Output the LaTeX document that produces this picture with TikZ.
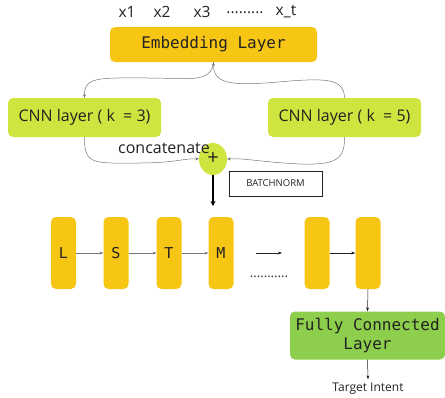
\documentclass[tikz,border=0pt]{standalone}
\usepackage{fontspec}
\setmainfont{Open Sans}
\setmonofont{DejaVu Sans Mono}
\usetikzlibrary{arrows.meta,shapes.geometric}
\definecolor{amber}{HTML}{F7C614}
\definecolor{lime}{HTML}{CFE43E}
\definecolor{leaf}{HTML}{8DCF4C}
\definecolor{ink}{HTML}{222222}
\definecolor{wire}{HTML}{777777}
\begin{document}
\begin{tikzpicture}[x=1pt,y=-1pt,
  box/.style={rounded corners=5pt, inner sep=0pt, text=ink, anchor=center},
  ambox/.style={box, fill=amber, font=\ttfamily\fontsize{15}{18}\selectfont},
  cnnbox/.style={box, fill=lime, minimum width=153pt, minimum height=39pt, font=\fontsize{16}{19}\selectfont},
  cell/.style={ambox, minimum width=25pt, minimum height=72pt},
  lbl/.style={inner sep=0pt, text=ink, anchor=center},
  thin/.style={draw=wire, line width=0.5pt, -{Stealth[length=3.5pt,width=3pt]}},
  dark/.style={draw=ink, line width=0.6pt, -{Stealth[length=4pt,width=3pt]}}]
\useasboundingbox (0,0) rectangle (445,397);

% top input labels
\begin{scope}[every node/.style={lbl, font=\fontsize{15.5}{18}\selectfont}]
\node (x1) at (127,12) {x1};
\node (x2) at (162,12) {x2};
\node (x3) at (202,12) {x3};
\node (xd) at (245,13) {.........};
\node (xt) at (286,12) {x\_t};
\end{scope}

\node[ambox, minimum width=207pt, minimum height=35pt, font=\ttfamily\fontsize{16}{19}\selectfont] (emb) at (213.5,44.5) {Embedding Layer};
\node[cnnbox] (c3) at (84.5,117.5) {CNN layer ( k \ = 3)};
\node[cnnbox] (c5) at (344.5,117.5) {CNN layer ( k \ = 5)};

\node[ellipse, fill=lime, minimum width=28pt, minimum height=32pt, inner sep=0pt, text=ink, font=\fontsize{20}{22}\selectfont] (plus) at (213,159) {+};
\node[lbl, font=\fontsize{16}{19}\selectfont] (cat) at (164,148) {concatenate};
\node[draw=ink, line width=0.8pt, minimum width=93pt, minimum height=25pt, inner sep=0pt, text=ink, font=\fontsize{9.5}{11}\selectfont] (bn) at (275.5,183.5) {BATCHNORM};

% curved connectors
\draw[thin] (emb.south) .. controls (212,84) and (185,78) .. (150,78)
  .. controls (100,78) and (84,76) .. (c3.north);
\draw[thin] (c5.north) .. controls (344,80) and (330,78) .. (290,81)
  .. controls (235,86) and (213,86) .. (emb.south);
\draw[thin] (c3.south) .. controls (84,166) and (95,163) .. (140,163)
  .. controls (175,163) and (185,158) .. (plus.west);
\draw[thin] (c5.south) .. controls (345,160) and (335,165) .. (300,164)
  .. controls (260,162) and (245,158) .. (plus.east);

\coordinate (bnend) at (213,206);
\draw[draw=black, line width=1.5pt, -{Stealth[length=5pt,width=5pt]}] (plus.south) -- (bnend);

% LSTM cells
\node[cell] (l1) at (63.5,253) {L};
\node[cell] (l2) at (116,253) {S};
\node[cell] (l3) at (169,253) {T};
\node[cell] (l4) at (221,253) {M};
\node[cell] (l5) at (317,253) {};
\node[cell] (l6) at (368,253) {};
\draw[thin] (l1) -- (l2);
\draw[thin] (l2) -- (l3);
\draw[thin] (l3) -- (l4);
\coordinate (fa) at (256,253);
\coordinate (fb) at (282,253);
\draw[dark, line width=0.5pt] (fa) -- (fb);
\draw[dark, line width=0.5pt] (l5) -- (l6);
\node[lbl, font=\fontsize{13}{15}\selectfont] (dots) at (269,277) {...........};

\node[box, fill=leaf, minimum width=155pt, minimum height=48pt, align=center, font=\ttfamily\fontsize{16}{19}\selectfont] (fc) at (367.5,335.5) {Fully Connected\\Layer};
\draw[dark, line width=0.5pt] (l6.south) -- (fc.north);
\node[lbl, outer sep=4pt, font=\fontsize{12}{14}\selectfont] (tgt) at (368,389) {Target Intent};
\draw[dark, line width=0.5pt] (fc.south) -- (tgt.north);
\end{tikzpicture}
\end{document}
